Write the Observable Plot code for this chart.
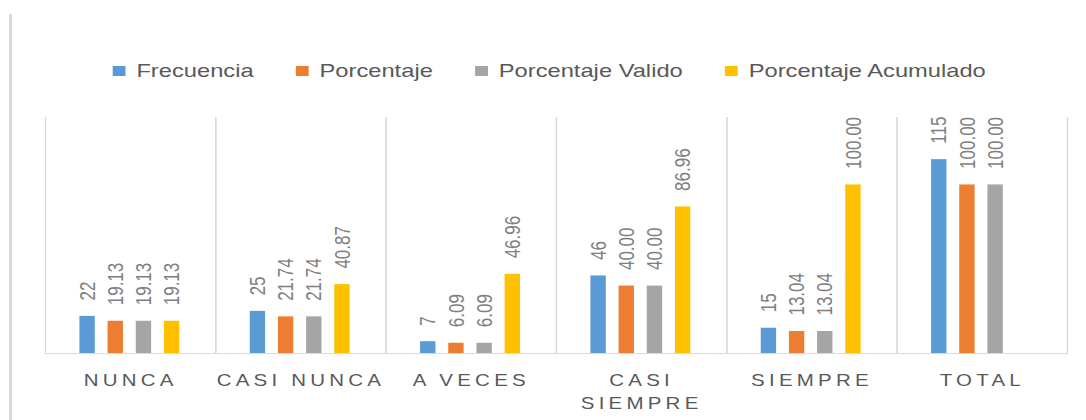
<!DOCTYPE html>
<html>
<head>
<meta charset="utf-8">
<script src="https://cdn.jsdelivr.net/npm/d3@7"></script>
<script src="https://cdn.jsdelivr.net/npm/@observablehq/plot@0.6"></script>
<style>
  html, body { margin: 0; padding: 0; background: #fff; }
  body { width: 1086px; height: 420px; overflow: hidden; position: relative; font-family: 'Liberation Sans', Arial, sans-serif; }
  #border { position: absolute; left: 9px; top: 14px; width: 3px; height: 406px; background: #d9d9d9; }
  #wrap { position: absolute; left: 0; top: 0; width: 848px; height: 420px; transform: scaleX(1.2807); transform-origin: 0 0; }
  #legend { position: absolute; left: 88px; top: 60px; height: 22px; display: flex; align-items: center; white-space: nowrap; }
  .item { display: flex; align-items: center; margin-right: 33px; font-size: 18.5px; color: #595959; }
  .sw { width: 10px; height: 10px; margin-right: 8.5px; }
  #chart { position: absolute; left: 0; top: 100px; }
  g[aria-label="fx-axis tick label"] text { letter-spacing: 3.3px; }
</style>
</head>
<body>
<div id="border"></div>
<div id="wrap">
  <div id="legend"></div>
  <div id="chart"></div>
</div>
<script>
const categories = ["NUNCA", "CASI NUNCA", "A VECES", "CASI SIEMPRE", "SIEMPRE", "TOTAL"];
const seriesNames = ["Frecuencia", "Porcentaje", "Porcentaje Valido", "Porcentaje Acumulado"];
const frecuencia = [22, 25, 7, 46, 15, 115];
const porcentaje = [19.13, 21.74, 6.09, 40.00, 13.04, 100.00];
const porcentajeValido = [19.13, 21.74, 6.09, 40.00, 13.04, 100.00];
const porcentajeAcumulado = [19.13, 40.87, 46.96, 86.96, 100.00, null];
const colors = ["#5b9bd5", "#ed7d31", "#a5a5a5", "#ffc000"];

const seriesValues = [frecuencia, porcentaje, porcentajeValido, porcentajeAcumulado];
const rows = [];
categories.forEach((cat, i) => {
  seriesNames.forEach((s, j) => {
    const v = seriesValues[j][i];
    if (v == null) return;
    rows.push({cat, series: s, value: v, label: j === 0 ? String(v) : v.toFixed(2)});
  });
});

// legend
const legend = document.getElementById("legend");
seriesNames.forEach((s, j) => {
  const it = document.createElement("div");
  it.className = "item";
  const sw = document.createElement("span");
  sw.className = "sw";
  sw.style.background = colors[j];
  const t = document.createElement("span");
  t.textContent = s;
  it.appendChild(sw);
  it.appendChild(t);
  legend.appendChild(it);
});

const chart = Plot.plot({
  width: 848,
  height: 320,
  marginLeft: 34,
  marginRight: 15,
  marginTop: 17,
  marginBottom: 67,
  style: {fontFamily: "'Liberation Sans', Arial, sans-serif", color: "#595959", background: "transparent"},
  fx: {domain: categories, padding: 0},
  x: {domain: seriesNames, paddingInner: 0.448, paddingOuter: 1.164, axis: null},
  y: {domain: [0, 140], axis: null},
  color: {domain: seriesNames, range: colors},
  marks: [
    Plot.frame({anchor: "left", stroke: "#d9d9d9"}),
    Plot.frame({anchor: "right", stroke: "#d9d9d9"}),
    Plot.ruleY([0], {stroke: "#d9d9d9"}),
    Plot.barY(rows, {fx: "cat", x: "series", y: "value", fill: "series"}),
    Plot.text(rows, {fx: "cat", x: "series", y: "value", text: "label", rotate: -90, textAnchor: "start", dy: -16, fontSize: 17, fill: "#7f7f7f"}),
    Plot.axisFx({anchor: "bottom", tickSize: 0, tickPadding: 17, fontSize: 16, lineHeight: 1.4, label: null,
      tickFormat: d => d === "CASI SIEMPRE" ? "CASI\nSIEMPRE" : d})
  ]
});
document.getElementById("chart").appendChild(chart);
</script>
</body>
</html>
